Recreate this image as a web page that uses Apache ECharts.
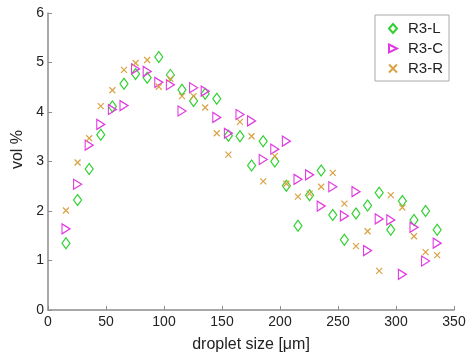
<!DOCTYPE html>
<html><head><meta charset="utf-8">
<script src="https://cdn.jsdelivr.net/npm/echarts@6/dist/echarts.min.js"></script>
<style>html,body{margin:0;padding:0;background:#fff}#c{width:471px;height:358px}</style>
</head><body><div id="c"></div>
<script>
const sizes = [15.5,25.5,35.5,45.5,55.5,65.5,75.5,85.5,95.5,105.5,115.5,125.5,135.5,145.5,155.5,165.5,175.5,185.5,195.5,205.5,215.5,225.5,235.5,245.5,255.5,265.5,275.5,285.5,295.5,305.5,315.5,325.5,335.5];
const r3L = [1.35,2.22,2.85,3.54,4.11,4.57,4.77,4.69,5.11,4.75,4.45,4.22,4.37,4.27,3.52,3.51,2.92,3.41,3.00,2.51,1.70,2.32,2.82,1.92,1.42,1.95,2.11,2.37,1.62,2.20,1.82,2.00,1.62];
const r3C = [1.64,2.54,3.33,3.75,4.05,4.13,4.87,4.82,4.60,4.55,4.02,4.49,4.42,3.89,3.57,3.95,3.82,3.04,3.25,3.41,2.64,2.73,2.10,2.49,1.90,2.39,1.20,1.84,1.82,0.72,1.67,0.99,1.35];
const r3R = [2.01,2.98,3.47,4.12,4.44,4.85,4.99,5.05,4.51,4.67,4.32,4.32,4.09,3.57,3.14,3.80,3.51,2.60,3.11,2.55,2.29,2.35,2.49,2.77,2.15,1.29,1.59,0.79,2.32,2.07,1.49,1.17,1.11];
const xTicks = [0,50,100,150,200,250,300,350];
const yTicks = [0,1,2,3,4,5,6];
const seriesNames = ['R3-L','R3-C','R3-R'];

const pair = v => sizes.map((x,i)=>[x,v[i]]);
const FONT = 'Liberation Sans, Arial, sans-serif';
const axisCol = '#8c8c8c';
const cols = ['#2fd12f','#e03ae0','#d9a244'];
const syms = ['diamond','path://M0,0 L10,5 L0,10 Z','path://M0,0 L10,10 M10,0 L0,10'];
const symSize = [[8,11],[8,10],[6,6]];

const chart = echarts.init(document.getElementById('c'));
chart.setOption({
  animation:false,
  backgroundColor:'#fff',
  grid:{left:48,right:17,top:13,bottom:45},
  xAxis:{type:'value',min:0,max:350,interval:50,
    name:'droplet size [\u03bcm]',nameLocation:'middle',nameGap:27,
    nameTextStyle:{fontFamily:FONT,fontSize:16,color:'#222'},
    axisLine:{lineStyle:{color:axisCol,width:1.5}},
    axisTick:{inside:true,length:4,lineStyle:{color:axisCol}},
    axisLabel:{fontFamily:FONT,fontSize:14,color:'#222',margin:5,formatter:v=>xTicks.includes(v)?String(v):''},
    splitLine:{show:false}},
  yAxis:{type:'value',min:0,max:6,interval:1,
    name:'vol %',nameLocation:'middle',nameGap:21,
    nameTextStyle:{fontFamily:FONT,fontSize:16,color:'#222',padding:[0,0,0,24]},
    axisLine:{show:true,lineStyle:{color:axisCol,width:1.5}},
    axisTick:{show:true,inside:true,length:4,lineStyle:{color:axisCol}},
    axisLabel:{fontFamily:FONT,fontSize:14,color:'#222',margin:4,formatter:v=>yTicks.includes(v)?String(v):''},
    splitLine:{show:false}},
  legend:{orient:'vertical',left:375,top:15,
    data:seriesNames.map((n,i)=>({name:n,icon:syms[i]})),
    itemWidth:8,itemHeight:9,itemGap:5,
    borderColor:'#aaa',borderWidth:1,padding:[6,6,5,13],
    textStyle:{fontFamily:FONT,fontSize:15,color:'#222',padding:[0,0,0,6]},
    backgroundColor:'#fff'},
  series:seriesNames.map((n,i)=>({
    name:n,type:'scatter',data:pair([r3L,r3C,r3R][i]),
    symbol:syms[i],symbolSize:symSize[i],
    itemStyle:{color:'transparent',borderColor:cols[i],borderWidth:1.2,opacity:1}
  }))
});
</script></body></html>
